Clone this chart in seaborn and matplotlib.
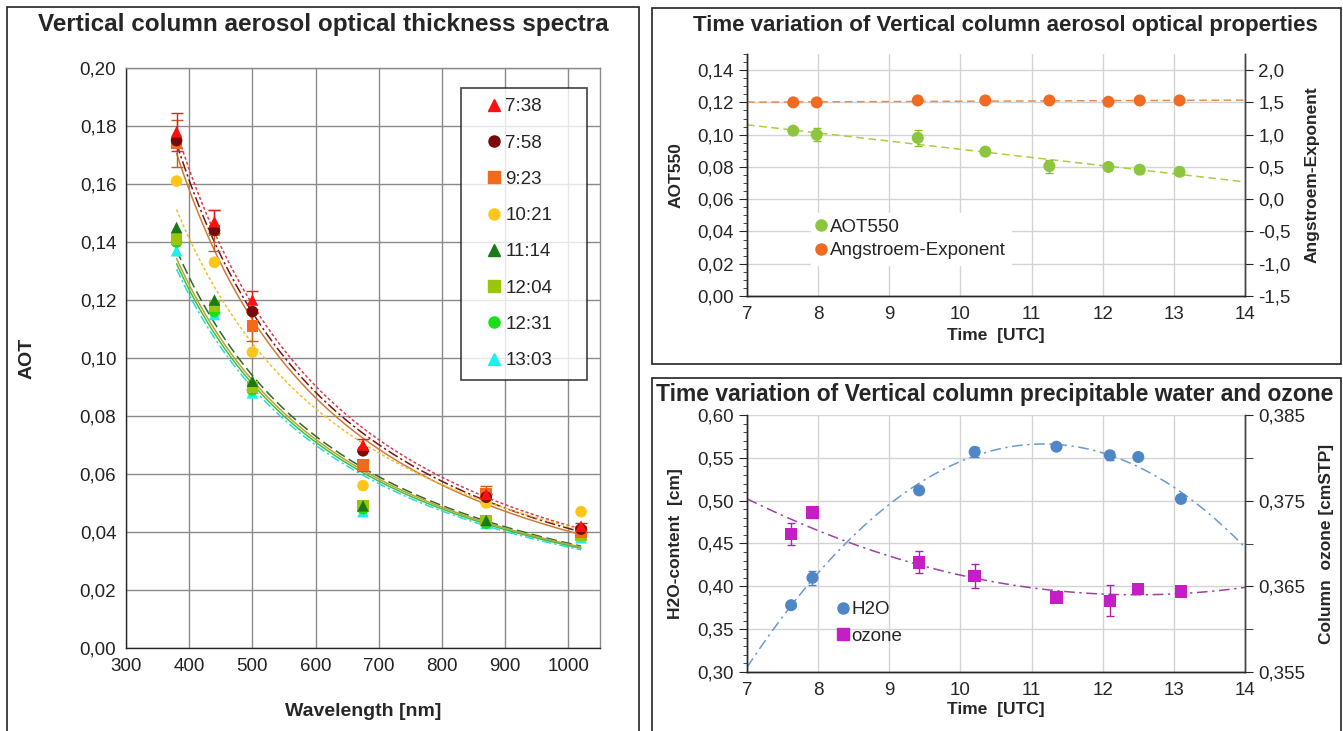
import numpy as np
import pandas as pd
import matplotlib
matplotlib.use("Agg")
import matplotlib.pyplot as plt
import seaborn as sns
from matplotlib.ticker import FuncFormatter, MultipleLocator
from matplotlib.lines import Line2D
from matplotlib.patches import Rectangle

# ---------------- data ----------------
wavelengths = [380, 440, 500, 675, 870, 1020]
spectra_labels = ["7:38", "7:58", "9:23", "10:21", "11:14", "12:04", "12:31", "13:03"]
aot_738 = [0.178, 0.147, 0.120, 0.070, 0.053, 0.042]
aot_758 = [0.175, 0.144, 0.116, 0.068, 0.052, 0.041]
aot_923 = [0.174, 0.144, 0.111, 0.063, 0.053, 0.040]
aot_1021 = [0.161, 0.133, 0.102, 0.056, 0.050, 0.047]
aot_1114 = [0.145, 0.120, 0.092, 0.049, 0.044, 0.040]
aot_1204 = [0.141, 0.118, 0.090, 0.049, 0.044, 0.039]
aot_1231 = [0.140, 0.116, 0.089, 0.048, 0.043, 0.039]
aot_1303 = [0.137, 0.115, 0.088, 0.047, 0.043, 0.038]
err_738 = [0.0065, 0.004, 0.003, 0.002, 0.0, 0.001]
err_923 = [0.008, 0.007, 0.005, 0.002, 0.003, 0.0]

# time series
t_aot = [7.65, 7.98, 9.40, 10.35, 11.25, 12.08, 12.52, 13.08]
aot550 = [0.1025, 0.1000, 0.0980, 0.0895, 0.0805, 0.0800, 0.0783, 0.0770]
aot550_err = [0.0015, 0.004, 0.005, 0.002, 0.004, 0.002, 0.002, 0.002]
angstroem = [1.50, 1.50, 1.53, 1.53, 1.53, 1.51, 1.53, 1.53]

t_h2o = [7.62, 7.92, 9.42, 10.20, 11.35, 12.10, 12.50, 13.10]
h2o = [0.378, 0.410, 0.512, 0.557, 0.563, 0.553, 0.551, 0.502]
h2o_err = [0.002, 0.008, 0.003, 0.006, 0.002, 0.005, 0.002, 0.003]
ozone = [0.3711, 0.3736, 0.3678, 0.3662, 0.3637, 0.3633, 0.3647, 0.3644]
ozone_err = [0.0013, 0.0003, 0.0013, 0.0014, 0.0002, 0.0018, 0.0002, 0.0002]
ozone_ticks = [0.355, 0.365, 0.375, 0.385]

# ---------------- style ----------------
sns.set_style("white")
plt.rcParams["font.family"] = ["Liberation Sans Narrow", "Liberation Sans", "DejaVu Sans"]
plt.rcParams["axes.linewidth"] = 1.0

comma2 = FuncFormatter(lambda v, p: f"{v:.2f}".replace(".", ","))
comma1 = FuncFormatter(lambda v, p: f"{v:.1f}".replace(".", ","))
comma3 = FuncFormatter(lambda v, p: f"{v:.3f}".replace(".", ","))
lab_font = dict(family=["Liberation Sans", "DejaVu Sans"], fontweight="bold", fontsize=12.5)

fig = plt.figure(figsize=(13.43, 7.31), dpi=100)
W, H = 1343, 731


def box(x0, y0, x1, y1):
    fig.patches.append(Rectangle((x0 / W, 1 - y1 / H), (x1 - x0) / W, (y1 - y0) / H,
                                 transform=fig.transFigure, fill=False,
                                 edgecolor="#222222", linewidth=1.2))


box(7, 7, 639, 735)
box(652, 8, 1341, 364)
box(652, 378, 1341, 735)

# ---------------- left: AOT spectra ----------------
ax = fig.add_axes([126 / W, 1 - 648 / H, 474 / W, 580 / H])
series = [aot_738, aot_758, aot_923, aot_1021, aot_1114, aot_1204, aot_1231, aot_1303]
mk_colors = ["#ff1010", "#7a0a0a", "#f26a1a", "#ffc61a", "#1a7a1a", "#9cc40a", "#18e018", "#20eeee"]
markers = ["^", "o", "s", "o", "^", "s", "o", "^"]
fit_colors = ["#e03a4a", "#7a1515", "#d07a3a", "#f0c030", "#2f6a2f", "#c0a030", "#40c040", "#30d8d8"]
fit_styles = [(0, (2, 1.5)), (0, (7, 2, 1.5, 2)), "-", (0, (2, 1.5)), (0, (7, 3)), "-", "-", (0, (6, 2, 1.5, 2))]

wl = np.array(wavelengths, dtype=float)
xfit = np.linspace(380, 1020, 200)
for vals, fc, ls in zip(series, fit_colors, fit_styles):
    b, a = np.polyfit(np.log(wl), np.log(vals), 1)
    sns.lineplot(x=xfit, y=np.exp(a) * xfit ** b, ax=ax, color=fc, linestyle=ls, linewidth=1.1)

ax.errorbar(wavelengths, aot_923, yerr=err_923, fmt="none", ecolor="#c06020", capsize=4, elinewidth=1)
ax.errorbar(wavelengths, aot_738, yerr=err_738, fmt="none", ecolor="#e02020", capsize=4, elinewidth=1)
for i in range(len(series) - 1, -1, -1):
    sns.scatterplot(x=wavelengths, y=series[i], ax=ax, marker=markers[i], color=mk_colors[i],
                    s=70, edgecolor="none", zorder=4)

ax.set_xlim(300, 1050)
ax.set_ylim(0, 0.20)
ax.xaxis.set_major_locator(MultipleLocator(100))
ax.xaxis.set_minor_locator(MultipleLocator(50))
ax.yaxis.set_major_locator(MultipleLocator(0.02))
ax.yaxis.set_minor_locator(MultipleLocator(0.01))
ax.yaxis.set_major_formatter(comma2)
ax.grid(True, which="major", color="#8a8a8a", linewidth=1.0)
ax.tick_params(which="major", direction="inout", length=7, labelsize=13.5, colors="#222222")
ax.tick_params(which="minor", direction="out", length=4)
for s in ["top", "right"]:
    ax.spines[s].set_color("#8a8a8a")
ax.set_xlabel("Wavelength [nm]", labelpad=20, **{**lab_font, "fontsize": 14})
ax.set_ylabel("AOT", labelpad=32, **{**lab_font, "fontsize": 14})
fig.text(323 / W, 1 - 25 / H, "Vertical column aerosol optical thickness spectra",
         ha="center", va="center", fontsize=17.5, fontweight="bold")

handles = [Line2D([], [], marker=m, color=c, linestyle="none", markersize=8)
           for m, c in zip(markers, mk_colors)]
leg = ax.legend(handles, spectra_labels, loc="upper left", bbox_to_anchor=(0.707, 0.9655, 0.266, 0),
                mode="expand", frameon=True, fontsize=13.5, labelspacing=1.02, handlelength=2.4,
                handletextpad=-0.6, borderpad=0.55, fancybox=False, borderaxespad=0)
leg.get_frame().set_edgecolor("#111111")
leg.get_frame().set_linewidth(1.2)

# ---------------- top right: AOT550 and Angstroem ----------------
ax2 = fig.add_axes([747 / W, 1 - 296 / H, 498 / W, 242 / H])
ax2r = ax2.twinx()
tt = np.linspace(7, 14, 100)
p = np.polyfit(t_aot, aot550, 1)
sns.lineplot(x=tt, y=np.polyval(p, tt), ax=ax2, color="#a8d040", linestyle=(0, (5, 3)), linewidth=1.1)
ax2.errorbar(t_aot, aot550, yerr=aot550_err, fmt="none", ecolor="#8cc020", capsize=3, elinewidth=1)
sns.scatterplot(x=t_aot, y=aot550, ax=ax2, color="#8cc63f", s=75, edgecolor="none", zorder=4)
p = np.polyfit(t_aot, angstroem, 1)
sns.lineplot(x=tt, y=np.polyval(p, tt), ax=ax2r, color="#e8904a", linestyle=(0, (5, 3)), linewidth=1.1)
sns.scatterplot(x=t_aot, y=angstroem, ax=ax2r, color="#f26a22", s=75, edgecolor="none", zorder=4)

ax2.set_xlim(7, 14)
ax2.set_ylim(0, 0.15)
ax2r.set_ylim(-1.5, 2.25)
ax2.xaxis.set_major_locator(MultipleLocator(1))
ax2.yaxis.set_major_locator(MultipleLocator(0.02))
ax2.yaxis.set_minor_locator(MultipleLocator(0.005))
ax2.yaxis.set_major_formatter(comma2)
ax2r.yaxis.set_major_locator(MultipleLocator(0.5))
ax2r.yaxis.set_major_formatter(comma1)
ax2.grid(True, which="major", color="#d4d4d4", linewidth=1.0)
ax2.tick_params(which="major", direction="out", length=6, labelsize=13.5)
ax2.tick_params(axis="x", direction="inout", length=8)
ax2.tick_params(which="minor", direction="out", length=3)
ax2r.tick_params(direction="out", length=6, labelsize=13.5)
for a_ in (ax2, ax2r):
    a_.spines["top"].set_visible(False)
    a_.spines["right"].set_color("#444444")
ax2.set_xlabel("Time  [UTC]", labelpad=3, **lab_font)
ax2.set_ylabel("AOT550", labelpad=10, **lab_font)
ax2r.set_ylabel("Angstroem-Exponent", labelpad=10, **lab_font)
fig.text(1005 / W, 1 - 25 / H, "Time variation of Vertical column aerosol optical properties",
         ha="center", va="center", fontsize=16, fontweight="bold")
h2 = [Line2D([], [], marker="o", color="#8cc63f", linestyle="none", markersize=8),
      Line2D([], [], marker="o", color="#f26a22", linestyle="none", markersize=8)]
lg2 = ax2r.legend(h2, ["AOT550", "Angstroem-Exponent"], loc="lower left",
                  bbox_to_anchor=(0.11, 0.09), frameon=True, fontsize=13.5, handlelength=0.5,
                  handletextpad=0.2, labelspacing=0.35, fancybox=False, borderpad=0.3)
lg2.get_frame().set_edgecolor("white")
lg2.get_frame().set_alpha(1)

# ---------------- bottom right: H2O and ozone ----------------
ax3 = fig.add_axes([747 / W, 1 - 672 / H, 498 / W, 257 / H])
ax3r = ax3.twinx()
p = np.polyfit(t_h2o, h2o, 2)
sns.lineplot(x=tt, y=np.polyval(p, tt), ax=ax3, color="#6a9ad0", linestyle=(0, (7, 3, 1.5, 3)), linewidth=1.1)
ax3.errorbar(t_h2o, h2o, yerr=h2o_err, fmt="none", ecolor="#4f86c6", capsize=3, elinewidth=1)
sns.scatterplot(x=t_h2o, y=h2o, ax=ax3, color="#4f86c6", s=75, edgecolor="none", zorder=4)
p = np.polyfit(t_h2o, ozone, 2)
sns.lineplot(x=tt, y=np.polyval(p, tt), ax=ax3r, color="#a040a0", linestyle=(0, (7, 3, 1.5, 3)), linewidth=1.1)
ax3r.errorbar(t_h2o, ozone, yerr=ozone_err, fmt="none", ecolor="#b020b0", capsize=3, elinewidth=1)
sns.scatterplot(x=t_h2o, y=ozone, ax=ax3r, color="#c41ec4", marker="s", s=80, edgecolor="none", zorder=4)

ax3.set_xlim(7, 14)
ax3.set_ylim(0.30, 0.60)
ax3r.set_ylim(0.355, 0.385)
ax3.xaxis.set_major_locator(MultipleLocator(1))
ax3.yaxis.set_major_locator(MultipleLocator(0.05))
ax3.yaxis.set_minor_locator(MultipleLocator(0.01))
ax3.yaxis.set_major_formatter(comma2)
ax3r.set_yticks(ozone_ticks)
ax3r.yaxis.set_minor_locator(MultipleLocator(0.005))
ax3r.yaxis.set_major_formatter(comma3)
ax3.grid(True, which="major", color="#d4d4d4", linewidth=1.0)
ax3.tick_params(which="major", direction="out", length=6, labelsize=13.5)
ax3.tick_params(axis="x", direction="inout", length=8)
ax3.tick_params(which="minor", direction="out", length=3)
ax3r.tick_params(which="both", direction="out", length=6, labelsize=13.5)
for a_ in (ax3, ax3r):
    a_.spines["top"].set_visible(False)
    a_.spines["right"].set_color("#444444")
ax3.set_xlabel("Time  [UTC]", labelpad=2, **lab_font)
ax3.set_ylabel("H2O-content  [cm]", labelpad=10, **lab_font)
ax3r.set_ylabel("Column  ozone [cmSTP]", labelpad=10, **lab_font)
fig.text(995 / W, 1 - 394 / H, "Time variation of Vertical column precipitable water and ozone",
         ha="center", va="center", fontsize=16.5, fontweight="bold")
h3 = [Line2D([], [], marker="o", color="#4f86c6", linestyle="none", markersize=8),
      Line2D([], [], marker="s", color="#c41ec4", linestyle="none", markersize=8)]
lg3 = ax3r.legend(h3, ["H2O", "ozone"], loc="lower left", bbox_to_anchor=(0.15, 0.04),
                  frameon=False, fontsize=13.5, handlelength=0.5, handletextpad=0.2,
                  labelspacing=0.5)

fig.savefig("out.png", dpi=100)
